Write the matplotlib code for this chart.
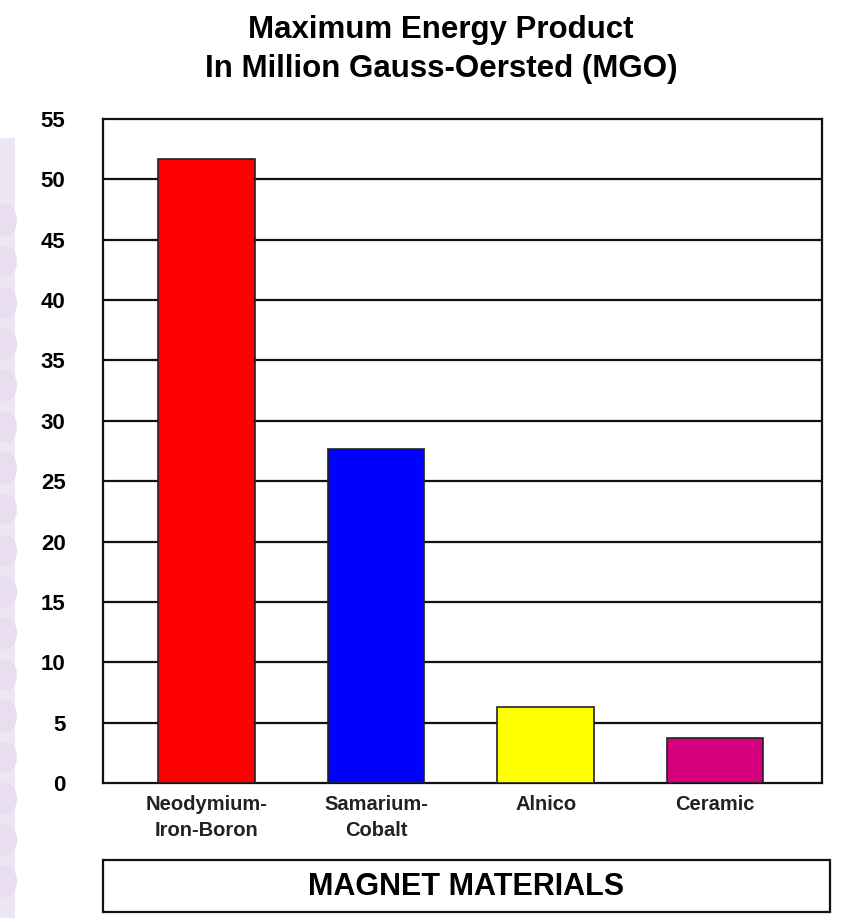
import numpy as np
import matplotlib
matplotlib.use("Agg")
import matplotlib.pyplot as plt
from matplotlib.patches import Rectangle, Ellipse

materials = ["Neodymium-\nIron-Boron", "Samarium-\nCobalt", "Alnico", "Ceramic"]
energy_mgo = [51.7, 27.7, 6.3, 3.7]
bar_colors = ["#ff0000", "#0000ff", "#ffff00", "#d6007f"]
yticks = list(range(0, 60, 5))

plt.rcParams['font.family'] = ['Liberation Sans', 'DejaVu Sans']

fig = plt.figure(figsize=(8.44, 9.18), dpi=100)

# lavender decorative strip on the left edge
fig.patches.append(Rectangle((0, 0), 15 / 844, 0.85, transform=fig.transFigure,
                             facecolor="#efe6f4", edgecolor="none", zorder=0))
for yc in np.arange(0.04, 0.8, 0.045):
    fig.patches.append(Ellipse((6 / 844, yc), 22 / 844, 32 / 918,
                               transform=fig.transFigure, facecolor="#e9ddf0",
                               edgecolor="none", zorder=0))

ax = fig.add_axes([103 / 844, 1 - 783 / 918, 719 / 844, 664 / 918])
x = np.arange(len(materials))
ax.bar(x, energy_mgo, width=0.57, color=bar_colors, edgecolor="#222222",
       linewidth=1.2, zorder=3)

ax.set_ylim(0, 55)
ax.set_xlim(-0.61, 3.63)
ax.set_yticks(yticks)
ax.set_yticklabels([str(t) for t in yticks], fontsize=16, fontweight="bold")
ax.set_xticks(x)
ax.set_xticklabels(materials, fontsize=14.5, fontweight="semibold",
                   linespacing=1.45, color="#222222")
ax.tick_params(axis="y", length=0, pad=27)
ax.tick_params(axis="x", length=0, pad=9)

for yv in yticks[1:-1]:
    ax.axhline(yv, color="#111111", lw=1.6, zorder=1)
for s in ax.spines.values():
    s.set_linewidth(1.6)
    s.set_color("#111111")

fig.text(441 / 844, 1 - 30 / 918, "Maximum Energy Product",
         ha="center", va="center", fontsize=22.5, fontweight="bold")
fig.text(441 / 844, 1 - 69 / 918, "In Million Gauss-Oersted (MGO)",
         ha="center", va="center", fontsize=22.5, fontweight="bold")

# x-axis title inside a box
fig.patches.append(Rectangle((103 / 844, 1 - 912 / 918), 727 / 844, 52 / 918,
                             transform=fig.transFigure, facecolor="white",
                             edgecolor="#111111", linewidth=1.6))
fig.text((103 + 830) / 2 / 844, 1 - 887 / 918, "MAGNET MATERIALS",
         ha="center", va="center", fontsize=22, fontweight="bold")

fig.savefig("out.png", dpi=100)
